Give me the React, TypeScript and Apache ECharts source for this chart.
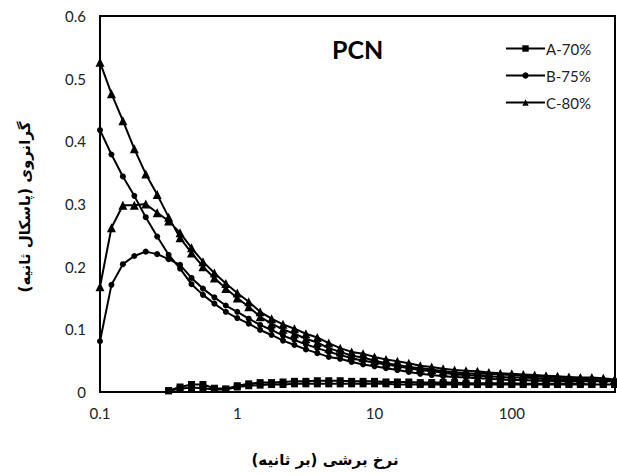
import React, { useEffect, useRef } from "react";
import * as echarts from "echarts";

// Shear rate (1/s), 12 points per decade
const shearRate = [
  0.1, 0.1212, 0.1468, 0.1778, 0.2154, 0.261, 0.3162, 0.3831, 0.4642, 0.5623, 0.6813, 0.8254,
  1, 1.212, 1.468, 1.778, 2.154, 2.61, 3.162, 3.831, 4.642, 5.623, 6.813, 8.254,
  10, 12.12, 14.68, 17.78, 21.54, 26.1, 31.62, 38.31, 46.42, 56.23, 68.13, 82.54,
  100, 121.2, 146.8, 177.8, 215.4, 261.0, 316.2, 383.1, 464.2, 562.3,
];

// A-70% (no data below ~0.3 1/s)
const aUp = [
  null, null, null, null, null, null, 0.002, 0.008, 0.012, 0.012, 0.006, 0.005,
  0.010, 0.013, 0.015, 0.015, 0.016, 0.017, 0.017, 0.018, 0.018, 0.018, 0.017, 0.017,
  0.017, 0.016, 0.016, 0.016, 0.015, 0.015, 0.015, 0.015, 0.014, 0.014, 0.014, 0.014,
  0.014, 0.013, 0.013, 0.013, 0.013, 0.013, 0.013, 0.012, 0.012, 0.012,
];
const aDown = [
  null, null, null, null, null, null, 0.002, 0.005, 0.007, 0.006, 0.004, 0.004,
  0.008, 0.010, 0.011, 0.012, 0.012, 0.013, 0.013, 0.013, 0.013, 0.013, 0.013, 0.013,
  0.013, 0.013, 0.012, 0.012, 0.012, 0.012, 0.012, 0.012, 0.012, 0.012, 0.012, 0.012,
  0.012, 0.012, 0.012, 0.012, 0.012, 0.012, 0.012, 0.012, 0.012, 0.012,
];

// B-75%
const bUp = [
  0.081, 0.171, 0.204, 0.217, 0.224, 0.220, 0.212, 0.203, 0.182, 0.165, 0.151, 0.138,
  0.128, 0.117, 0.107, 0.099, 0.090, 0.083, 0.076, 0.070, 0.064, 0.059, 0.054, 0.050,
  0.047, 0.044, 0.041, 0.038, 0.035, 0.033, 0.031, 0.028, 0.027, 0.026, 0.025, 0.024,
  0.023, 0.023, 0.022, 0.021, 0.020, 0.020, 0.019, 0.019, 0.018, 0.017,
];
const bDown = [
  0.418, 0.379, 0.344, 0.313, 0.279, 0.248, 0.219, 0.197, 0.172, 0.155, 0.141, 0.128,
  0.118, 0.109, 0.099, 0.091, 0.082, 0.075, 0.068, 0.062, 0.056, 0.053, 0.048, 0.044,
  0.041, 0.038, 0.035, 0.032, 0.029, 0.027, 0.025, 0.024, 0.023, 0.022, 0.021, 0.020,
  0.019, 0.019, 0.018, 0.018, 0.017, 0.017, 0.017, 0.017, 0.017, 0.017,
];

// C-80%
const cUp = [
  0.168, 0.262, 0.298, 0.298, 0.300, 0.286, 0.273, 0.254, 0.230, 0.208, 0.190, 0.173,
  0.158, 0.144, 0.128, 0.117, 0.108, 0.101, 0.093, 0.087, 0.078, 0.070, 0.064, 0.061,
  0.056, 0.052, 0.049, 0.046, 0.042, 0.040, 0.037, 0.035, 0.034, 0.033, 0.031, 0.030,
  0.029, 0.028, 0.027, 0.026, 0.025, 0.024, 0.023, 0.023, 0.022, 0.020,
];
const cDown = [
  0.526, 0.476, 0.433, 0.388, 0.348, 0.315, 0.279, 0.246, 0.222, 0.200, 0.182, 0.165,
  0.150, 0.136, 0.120, 0.109, 0.100, 0.093, 0.085, 0.079, 0.070, 0.064, 0.058, 0.055,
  0.050, 0.046, 0.043, 0.040, 0.038, 0.036, 0.033, 0.031, 0.030, 0.029, 0.029, 0.028,
  0.027, 0.026, 0.025, 0.024, 0.023, 0.022, 0.022, 0.021, 0.021, 0.020,
];

const seriesNames = ["A-70%", "B-75%", "C-80%"];
const yTicks = [0, 0.1, 0.2, 0.3, 0.4, 0.5, 0.6];
const chartTitle = "PCN";
const xTitle = "نرخ برشی (بر ثانیه)";
const yTitle = "گرانروی (پاسکال ثانیه)";

function loop(up: (number | null)[], down: (number | null)[]) {
  const pts: [number, number][] = [];
  shearRate.forEach((x, i) => {
    if (up[i] != null) pts.push([x, up[i] as number]);
  });
  for (let i = shearRate.length - 1; i >= 0; i--) {
    if (down[i] != null) pts.push([shearRate[i], down[i] as number]);
  }
  return pts;
}

export default function App() {
  const ref = useRef<HTMLDivElement>(null);
  useEffect(() => {
    document.body.style.margin = "0";
    const chart = echarts.init(ref.current!, null, { renderer: "svg" });
    const labelFont = { fontFamily: "Lato, 'Liberation Sans', sans-serif", fontSize: 15, color: "#222" };
    const mk = (name: string, data: [number, number][], symbol: string, size: number) => ({
      name,
      type: "line",
      data,
      symbol,
      symbolSize: size,
      showAllSymbol: true,
      lineStyle: { color: "#000", width: 2 },
      itemStyle: { color: "#000" },
      emphasis: { disabled: true },
    });
    chart.setOption({
      animation: false,
      grid: { left: 100, right: 2, top: 16, bottom: 83, show: true, borderColor: "#000", borderWidth: 2 },
      legend: {
        orient: "vertical",
        left: 500,
        top: 36,
        itemWidth: 39,
        itemHeight: 8,
        itemGap: 12,
        data: seriesNames,
        textStyle: { ...labelFont, color: "#222", fontSize: 15, padding: [0, 0, 0, -4] },
      },
      xAxis: {
        type: "log",
        logBase: 10,
        min: 0.1,
        max: 565,
        axisLine: { show: true, lineStyle: { color: "#000", width: 2 } },
        axisTick: { show: false },
        splitLine: { show: false },
        axisLabel: {
          ...labelFont,
          margin: 13,
          showMaxLabel: false,
          formatter: (v: number) => {
            const l = Math.log10(v);
            return Math.abs(l - Math.round(l)) < 1e-6 ? String(+v.toPrecision(3)) : "";
          },
        },
      },
      yAxis: {
        type: "value",
        min: yTicks[0],
        max: yTicks[yTicks.length - 1],
        interval: 0.1,
        axisLine: { show: true, lineStyle: { color: "#000", width: 2 } },
        axisTick: { show: false },
        splitLine: { show: false },
        axisLabel: { ...labelFont, margin: 14, formatter: (v: number) => String(+v.toFixed(1)) },
      },
      graphic: [
        {
          type: "text",
          x: 332,
          y: 49,
          style: {
            text: chartTitle,
            font: "bold 25px Lato, 'Liberation Sans', sans-serif",
            fill: "#000",
            textVerticalAlign: "middle",
          },
        },
        {
          type: "text",
          x: 325,
          y: 460,
          style: {
            text: xTitle,
            font: "bold 15px 'DejaVu Sans', sans-serif",
            fill: "#000",
            textAlign: "center",
            textVerticalAlign: "middle",
          },
        },
        {
          type: "text",
          x: 25,
          y: 207,
          rotation: Math.PI / 2,
          style: {
            text: yTitle,
            font: "bold 15px 'DejaVu Sans', sans-serif",
            fill: "#000",
            textAlign: "center",
            textVerticalAlign: "middle",
          },
        },
      ],
      series: [
        mk(seriesNames[0], loop(aUp, aDown), "rect", 7),
        mk(seriesNames[1], loop(bUp, bDown), "circle", 6),
        mk(seriesNames[2], loop(cUp, cDown), "triangle", 9),
      ],
    });
    return () => chart.dispose();
  }, []);
  return <div ref={ref} style={{ width: 617, height: 475 }} />;
}
